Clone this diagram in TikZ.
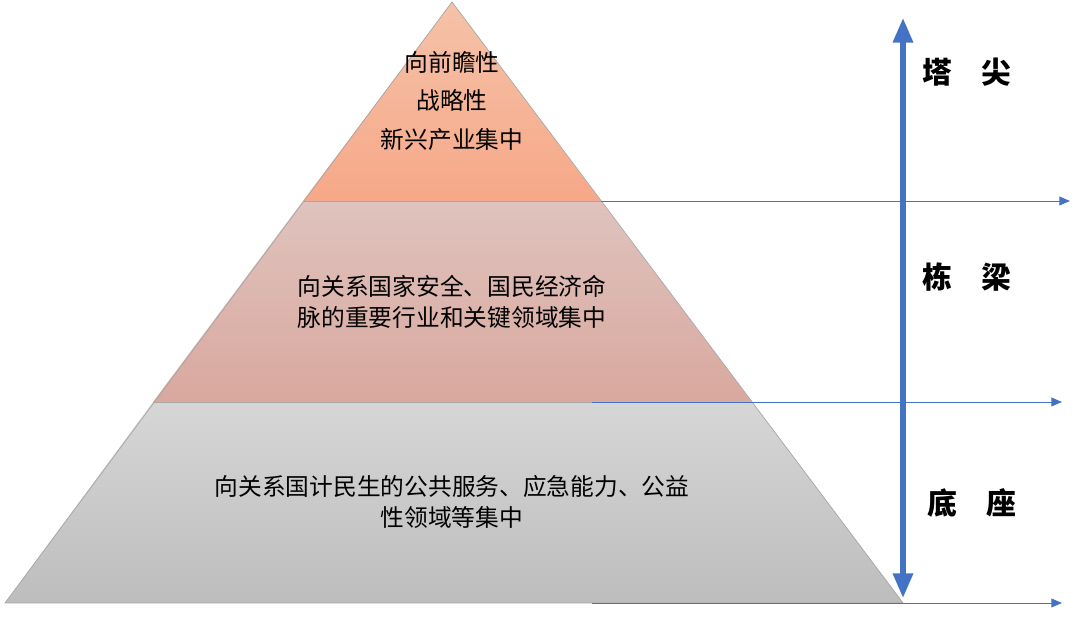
\documentclass[tikz,border=0pt]{standalone}
\usepackage{fontspec}
\setmainfont{Noto Sans CJK SC}
\usepackage{tikz}
\usetikzlibrary{arrows.meta, positioning, calc}

\definecolor{tipcol}{HTML}{F6A888}
\definecolor{tiptop}{HTML}{F5C2A8}
\definecolor{midcol}{HTML}{D9A89E}
\definecolor{midtop}{HTML}{DFC3BE}
\definecolor{basecol}{HTML}{BDBDBD}
\definecolor{basetop}{HTML}{D6D6D6}
\definecolor{axisblue}{HTML}{4472C4}

\begin{document}
\begin{tikzpicture}[x=0.02cm, y=-0.02cm, font=\fontsize{13.5pt}{18pt}\selectfont,
  tier/.style={draw=gray!70, line width=0.4pt},
  level/.style={font=\fontsize{17pt}{20pt}\selectfont\bfseries},
  guide/.style={-{Triangle[length=6pt,width=5pt]}, axisblue, line width=0.5pt}]
\useasboundingbox (0,0) rectangle (1080,617);

% Stufen der Pyramide
\shade[top color=tiptop, bottom color=tipcol] (452,2) -- (601,201) -- (303,201) -- cycle;
\shade[top color=midtop, bottom color=midcol] (303,201) -- (601,201) -- (752,402) -- (153,402) -- cycle;
\shade[top color=basetop, bottom color=basecol] (153,402) -- (752,402) -- (903,603) -- (5,603) -- cycle;
\draw[tier] (452,2) -- (903,603) -- (5,603) -- cycle;
\draw[tier] (303,201) -- (601,201);
\draw[tier] (153,402) -- (752,402);

% Texte
\node[align=center] (tip) at (452,101) {向前瞻性\\[4pt]战略性\\[4pt]新兴产业集中};
\node[align=center] (mid) at (452,302) {向关系国家安全、国民经济命\\脉的重要行业和关键领域集中};
\node[align=center] (base) at (452,502) {向关系国计民生的公共服务、应急能力、公益\\性领域等集中};

% Achse rechts
\coordinate (axtop) at (903,18);
\coordinate (axbot) at (903,598);
\draw[{Triangle[length=14pt,width=11pt]}-{Triangle[length=14pt,width=11pt]}, axisblue, line width=3pt] (axtop) -- (axbot);

\coordinate (g1s) at (601,201); \coordinate (g1e) at (1070,201);
\coordinate (g2s) at (592,402); \coordinate (g2e) at (1062,402);
\coordinate (g3s) at (592,603); \coordinate (g3e) at (1062,603);
\draw[guide] (g1s) -- (g1e);
\draw[guide] (g2s) -- (g2e);
\draw[guide] (g3s) -- (g3e);

\node[level] (ltip) at (967,72) {塔\hspace{1em}尖};
\node[level] (lmid) at (967,277) {栋\hspace{1em}梁};
\node[level] (lbase) at (972,503) {底\hspace{1em}座};
\end{tikzpicture}
\end{document}
